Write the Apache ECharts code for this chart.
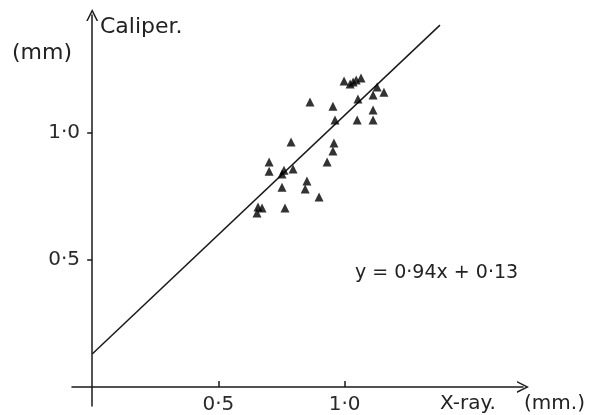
<!DOCTYPE html>
<html>
<head>
<meta charset="utf-8">
<script src="https://cdn.jsdelivr.net/npm/echarts@6/dist/echarts.min.js"></script>
<style>html,body{margin:0;padding:0;background:#fff}#c{width:592px;height:415px}</style>
</head>
<body>
<div id="c"></div>
<script>
// X-ray (mm) vs Caliper (mm) measurements
var xray = [0.998,1.022,1.034,1.046,1.065,1.129,1.156,1.113,1.053,0.863,0.954,1.113,0.962,1.050,1.113,0.788,0.958,0.954,0.931,0.701,0.701,0.760,0.796,0.752,0.752,0.851,0.844,0.899,0.657,0.673,0.653,0.764];
var caliper = [1.205,1.193,1.201,1.209,1.217,1.181,1.161,1.150,1.134,1.122,1.106,1.091,1.051,1.051,1.051,0.965,0.961,0.929,0.886,0.886,0.850,0.854,0.858,0.839,0.787,0.811,0.780,0.748,0.709,0.705,0.685,0.705];
// regression line y = 0.94x + 0.13 endpoints
var fitX = [0, 1.378];
var fitY = [0.13, 1.425];
var tickValues = [0.5, 1.0];

var FONT = 'DejaVu Sans';
var INK = '#1a1a1a';
var arrow = 'path://M0,12 L6,0 L12,12 L10.4,12 L6,3.2 L1.6,12 Z';
function fmt(v){ return v.toFixed(1).replace('.', '\u00b7'); }

var pts = xray.map(function(x,i){ return [x, caliper[i]]; });
var fit = fitX.map(function(x,i){ return [x, fitY[i]]; });

var chart = echarts.init(document.getElementById('c'), null, {renderer:'canvas'});
chart.setOption({
  backgroundColor:'#fff',
  animation:false,
  grid:{left:72, right:69, top:15, bottom:9, outerBoundsMode:'none', containLabel:false},
  xAxis:{
    type:'value', min:-0.08, max:1.707,
    axisLine:{onZero:true, lineStyle:{color:INK, width:1.5}, symbol:['none', arrow], symbolSize:[12,13]},
    axisTick:{show:true, inside:true, length:6, customValues:tickValues, lineStyle:{color:INK, width:1.5}},
    axisLabel:{show:true, customValues:tickValues, formatter:fmt, color:'#2a2a2a', fontFamily:FONT, fontSize:20, lineHeight:18, margin:-10},
    splitLine:{show:false}
  },
  yAxis:{
    type:'value', min:-0.075, max:1.465,
    axisLine:{onZero:true, lineStyle:{color:INK, width:1.5}, symbol:['none', arrow], symbolSize:[12,13]},
    axisTick:{show:true, inside:false, length:5, customValues:tickValues, lineStyle:{color:INK, width:1.5}},
    axisLabel:{show:true, customValues:tickValues, formatter:fmt, color:'#2a2a2a', fontFamily:FONT, fontSize:20, margin:-8},
    splitLine:{show:false}
  },
  series:[
    {type:'line', data:fit, symbol:'none', lineStyle:{color:INK, width:1.5}, silent:true, z:2},
    {type:'scatter', data:pts, symbol:'triangle', symbolSize:9, itemStyle:{color:'#000'}, z:3}
  ],
  graphic:[
    {type:'text', left:100, top:16, style:{text:'Caliper.', font:'22px '+FONT, fill:'#222'}},
    {type:'text', left:12, top:42, style:{text:'(mm)', font:'22px '+FONT, fill:'#222'}},
    {type:'text', left:440, top:394, style:{text:'X-ray.', font:'20px '+FONT, fill:'#222'}},
    {type:'text', left:524, top:394, style:{text:'(mm.)', font:'20px '+FONT, fill:'#222'}},
    {type:'text', left:355, top:264, style:{text:'y = 0\u00b794x + 0\u00b713', font:'19px '+FONT, fill:'#222'}}
  ]
});
</script>
</body>
</html>
